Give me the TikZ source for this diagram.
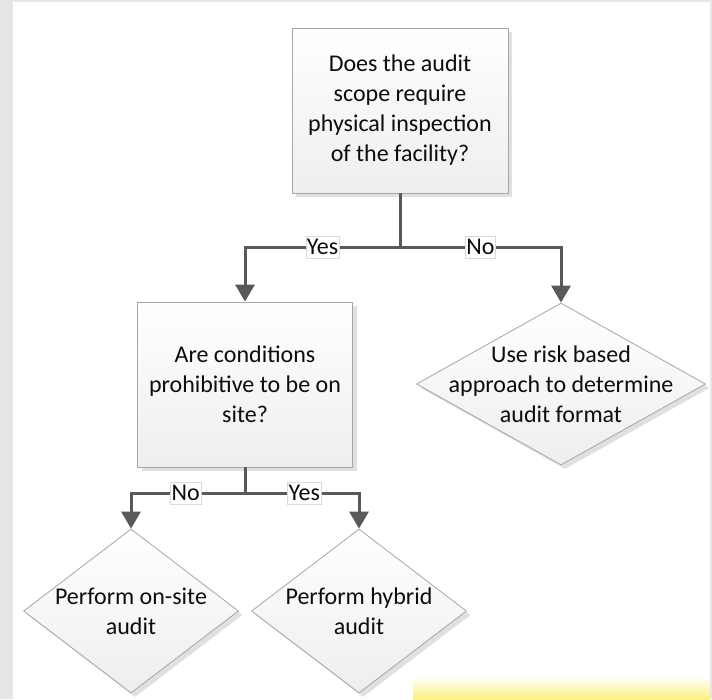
\documentclass[tikz,border=0pt]{standalone}
\usepackage{fontspec}
\setmainfont{Carlito}
\usetikzlibrary{
  arrows.meta,
  positioning,
  shapes.geometric,
  shadows
}
\definecolor{framegray}{RGB}{230,230,230}
\definecolor{linegray}{RGB}{89,89,89}
\definecolor{edgegray}{RGB}{166,166,166}
\definecolor{fillgray}{RGB}{238,238,238}
\definecolor{glowyellow}{RGB}{251,240,130}

\begin{document}
\begin{tikzpicture}[
  x=1pt, y=-1pt,
  font=\fontsize{24}{30}\selectfont,
  question/.style={
    rectangle, draw=edgegray, line width=0.8pt,
    top color=white, bottom color=fillgray,
    minimum width=216pt, minimum height=165pt, align=center,
    drop shadow={shadow xshift=4pt, shadow yshift=-4pt, fill=black!12, opacity=1}
  },
  outcome/.style={
    diamond, draw=edgegray, line width=0.8pt,
    top color=white, bottom color=fillgray,
    minimum width=215pt, minimum height=164pt, inner sep=0pt,
    drop shadow={shadow xshift=4pt, shadow yshift=-4pt, fill=black!12, opacity=1}
  },
  inside/.style={align=center, text=black!95},
  choice/.style={
    rectangle, fill=white, draw=black!15, line width=0.5pt,
    inner xsep=1pt, inner ysep=3pt, text=black!95
  },
  flow/.style={-{Triangle[length=17pt, width=19pt]}, linegray, line width=3pt},
]

% Frame
\useasboundingbox (0,0) rectangle (712,699);
\fill[framegray] (0,0) rectangle (712,699);
\fill[white] (13,2) rectangle (710,699);
\shade[top color=white, bottom color=glowyellow] (413,676) rectangle (710,699);

% Questions
\node[question, text=black!95] (scope) at (400,110.5)
  {Does the audit\\scope require\\physical inspection\\of the facility?};
\node[question, text=black!95, minimum width=215pt] (onsite) at (245,384.5)
  {Are conditions\\prohibitive to be on\\site?};

% Outcomes
\node[outcome, minimum width=289pt, minimum height=162pt,
  label={[inside]center:Use risk based\\approach to determine\\audit format}]
  (riskbased) at (561,384) {};
\node[outcome, label={[inside]center:Perform on-site\\audit}]
  (performsite) at (131,611) {};
\node[outcome, label={[inside]center:Perform hybrid\\audit}]
  (performhybrid) at (359,611) {};

% Split points
\coordinate (split1) at (400,247);
\coordinate (split2) at (245,493);

% Flows
\draw[flow] (scope.south) -- (split1) -| node[choice, pos=0.25] {Yes} (onsite.north);
\draw[flow] (scope.south) -- (split1) -| node[choice, pos=0.25] {No} (riskbased.north);
\draw[flow] (onsite.south) -- (split2) -| node[choice, pos=0.26] {No} (performsite.north);
\draw[flow] (onsite.south) -- (split2) -| node[choice, pos=0.26] {Yes} (performhybrid.north);

\end{tikzpicture}
\end{document}
